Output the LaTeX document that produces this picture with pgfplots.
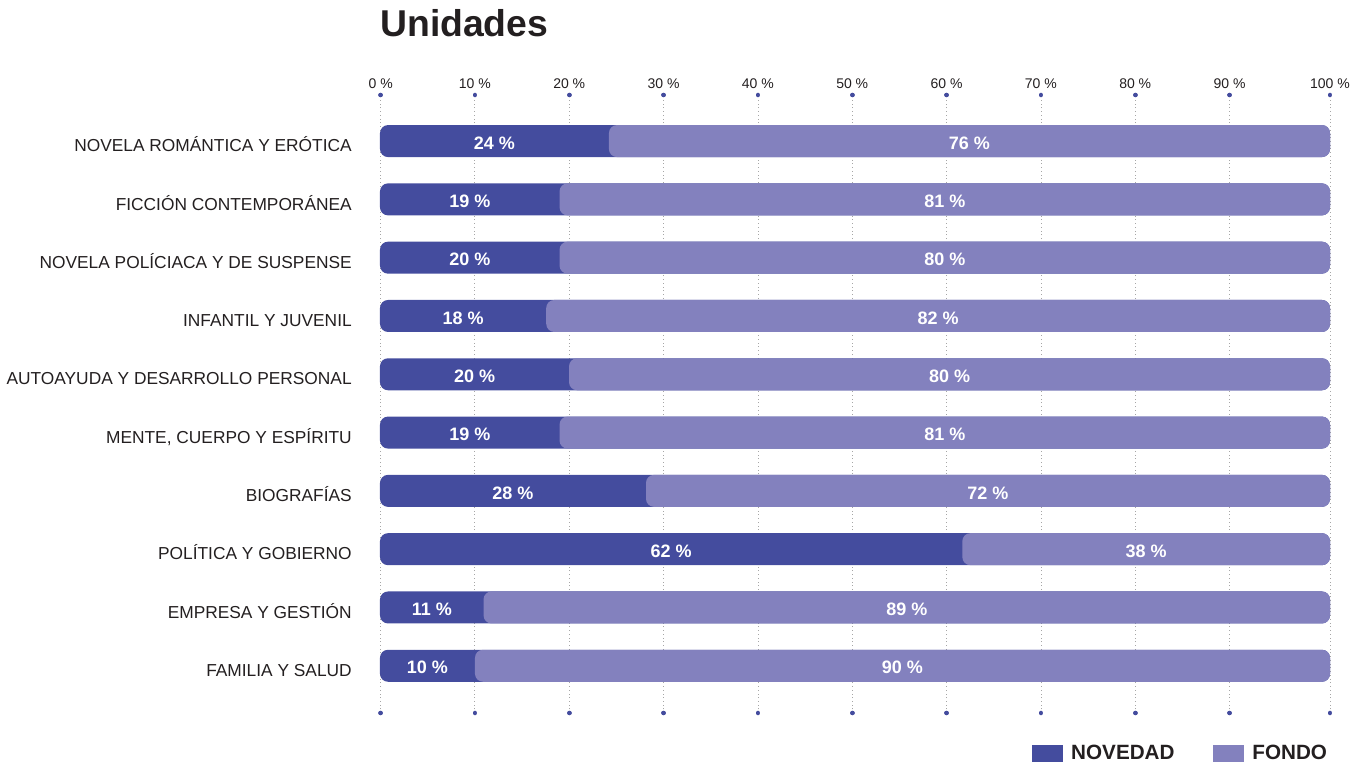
\documentclass[border=0pt]{standalone}
\usepackage{pgfplots}
\usepackage{pgfplotstable}
\pgfplotsset{compat=1.18}
\usepackage{fontspec}
\setmainfont{Liberation Sans}
\definecolor{darkc}{HTML}{444C9E}
\definecolor{lightc}{HTML}{8381BE}
\definecolor{txt}{HTML}{231F20}

\pgfplotstableread{
y nov fon novl fonl
9 24.1 75.9 24 76
8 18.9 81.1 19 81
7 18.9 81.1 20 80
6 17.5 82.5 18 82
5 19.9 80.1 20 80
4 18.9 81.1 19 81
3 28.0 72.0 28 72
2 61.3 38.7 62 38
1 10.9 89.1 11 89
0 10.0 90.0 10 90
}\data

\pgfplotsset{base/.style={width=712.5pt, height=463.5pt, scale only axis,
  xmin=0, xmax=100, ymin=-0.81, ymax=9.79, at={(0pt,0pt)}, anchor=south west}}

\begin{document}
\begin{tikzpicture}
% axis 1: decorations + dark full bars
\begin{axis}[base,
  xbar, bar width=24pt, bar shift=0pt,
  axis line style={draw=none},
  xtick={0.07,9.99,19.92,29.85,39.78,49.71,59.64,69.57,79.5,89.43,100},
  xticklabels={0 \%,10 \%,20 \%,30 \%,40 \%,50 \%,60 \%,70 \%,80 \%,90 \%,100 \%},
  xticklabel pos=upper,
  xticklabel style={anchor=base, inner sep=0pt, yshift=4.5pt, font=\fontsize{10.5}{12}\selectfont, text=txt},
  ytick={0,...,9},
  yticklabels={FAMILIA Y SALUD, EMPRESA Y GESTIÓN, POLÍTICA Y GOBIERNO, BIOGRAFÍAS, {MENTE, CUERPO Y ESPÍRITU}, AUTOAYUDA Y DESARROLLO PERSONAL, INFANTIL Y JUVENIL, NOVELA POLÍCIACA Y DE SUSPENSE, FICCIÓN CONTEMPORÁNEA, NOVELA ROMÁNTICA Y ERÓTICA},
  yticklabel style={anchor=base east, inner sep=0pt, xshift=-21pt, yshift=-8pt, font=\fontsize{13}{15}\selectfont, text=txt},
  xmajorgrids, major grid style={gray!70, line width=0.6pt, dash pattern=on 0.6pt off 2.2pt},
  tick align=center, major tick length=0.01pt,
  xtick style={draw=darkc, line width=3.4pt, line cap=round},
  ytick style={draw=none},
  title={\bfseries\fontsize{28}{32}\selectfont Unidades},
  title style={at={(0,1)}, anchor=base west, inner sep=0pt, yshift=38pt, text=txt},
  legend style={at={(1,0)}, anchor=east, yshift=-30pt, xshift=0pt, draw=none, fill=none, inner sep=0pt,
    legend columns=2, font=\bfseries\fontsize{15.5}{17}\selectfont, text=txt,
    /tikz/every even column/.append style={column sep=27pt}},
  legend cell align=left,
]
\addplot[fill=darkc, draw=none, rounded corners=6pt, forget plot]
  table[x expr=\thisrow{nov}+\thisrow{fon}, y=y]{\data};
\addlegendimage{legend image code/.code={\fill[darkc] (0pt,-6pt) rectangle (22.5pt,6pt); \path (27pt,0pt);}}
\addlegendentry{NOVEDAD}
\addlegendimage{legend image code/.code={\fill[lightc] (0pt,-6pt) rectangle (22.5pt,6pt); \path (27pt,0pt);}}
\addlegendentry{FONDO}
\end{axis}
% axis 2: stacked light bars
\begin{axis}[base, hide axis, xbar stacked, bar width=24pt]
\addplot[draw=none, fill=none] table[x=nov, y=y]{\data};
\addplot[fill=lightc, draw=none, rounded corners=6pt] table[x=fon, y=y]{\data};
\end{axis}
% axis 3: value labels
\begin{axis}[base, hide axis]
\addplot[only marks, mark=*, mark size=0pt, mark options={draw=none, fill=none},
  point meta=explicit symbolic, nodes near coords={\pgfplotspointmeta\ \%},
  nodes near coords style={anchor=center, yshift=-1.5pt, text=white, font=\bfseries\fontsize{13.5}{15}\selectfont}]
  table[x expr=\thisrow{nov}/2, y=y, meta=novl]{\data};
\addplot[only marks, mark=*, mark size=0pt, mark options={draw=none, fill=none},
  point meta=explicit symbolic, nodes near coords={\pgfplotspointmeta\ \%},
  nodes near coords style={anchor=center, yshift=-1.5pt, text=white, font=\bfseries\fontsize{13.5}{15}\selectfont}]
  table[x expr=\thisrow{nov}+\thisrow{fon}/2, y=y, meta=fonl]{\data};
\end{axis}
\pgfresetboundingbox
\path[use as bounding box] (-285pt,-36.75pt) rectangle (738.75pt,534.75pt);
\end{tikzpicture}
\end{document}
